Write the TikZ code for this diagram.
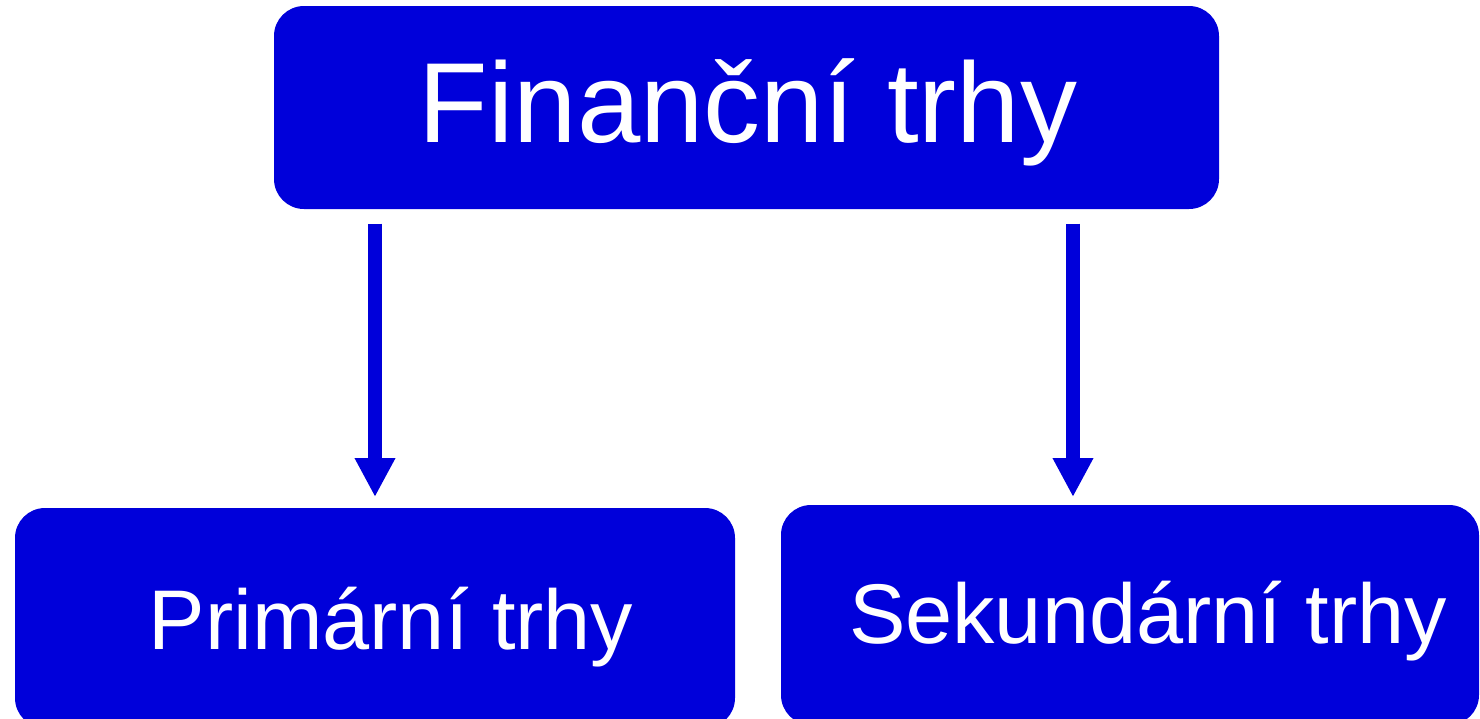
\documentclass[tikz,border=0pt]{standalone}
\usepackage{fontspec}
\setmainfont{Liberation Sans}
\usetikzlibrary{arrows.meta, positioning}
\definecolor{trhblue}{RGB}{0,0,218}

\begin{document}
\begin{tikzpicture}[
    box/.style={fill=trhblue, draw=none, rounded corners=0.3cm, inner sep=0pt},
    boxtext/.style={text=white, inner sep=0pt, anchor=base},
    arr/.style={trhblue, line width=0.14cm, -{Triangle[length=0.39cm, width=0.38cm]}}
  ]
    \useasboundingbox (0,0) rectangle (14.8,-7.18);
    % boxes
    \node [box, minimum width=9.45cm, minimum height=2.03cm] (fin) at (7.465,-1.075) {};
    \node [box, minimum width=7.2cm, minimum height=2.2cm] (prim) at (3.75,-6.18) {};
    \node [box, minimum width=6.98cm, minimum height=2.2cm] (sek) at (11.30,-6.15) {};
    % texts
    \node [boxtext, font=\fontsize{32.4}{39}\selectfont] (fint) at (7.48,-1.42) {Finanční trhy};
    \node [boxtext, font=\fontsize{24.1}{29}\selectfont] (primt) at (3.91,-6.49) {Primární trhy};
    \node [boxtext, font=\fontsize{24.1}{29}\selectfont] (sekt) at (11.48,-6.43) {Sekundární trhy};
    % arrows
    \coordinate (tip1) at (3.75,-4.97);
    \coordinate (tip2) at (10.73,-4.97);
    \draw [arr, shorten <=0.14cm] (fin.south -| tip1) -- (tip1);
    \draw [arr, shorten <=0.14cm] (fin.south -| tip2) -- (tip2);
\end{tikzpicture}
\end{document}
